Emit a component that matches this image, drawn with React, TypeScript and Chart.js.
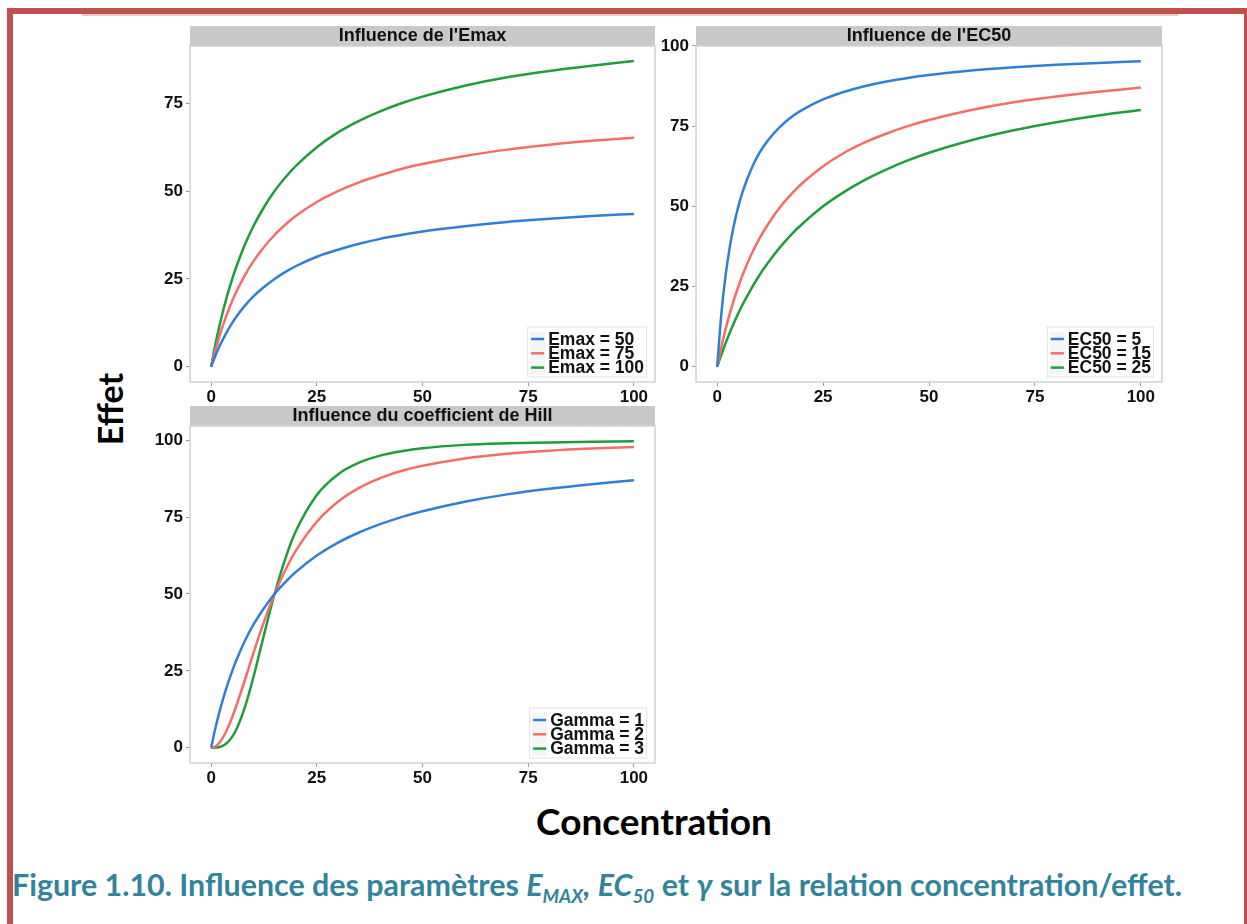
import React, { useEffect, useRef } from 'react';
import { Chart, registerables } from 'chart.js';

Chart.register(...registerables);

// ---- Data ----
const concentration = [0, 1, 2, 3, 4, 5, 6, 8, 10, 12, 15, 18, 20, 25, 30, 35, 40, 45, 50, 60, 70, 80, 90, 100];

// Panel 1: Influence de l'Emax
const emax50 = [0, 3.1, 5.9, 8.3, 10.5, 12.5, 14.3, 17.4, 20.0, 22.2, 25.0, 27.3, 28.6, 31.3, 33.3, 35.0, 36.4, 37.5, 38.5, 40.0, 41.2, 42.1, 42.9, 43.5];
const emax75 = [0, 4.7, 8.8, 12.5, 15.8, 18.8, 21.4, 26.1, 30.0, 33.3, 37.5, 40.9, 42.9, 46.9, 50.0, 52.5, 54.5, 56.3, 57.7, 60.0, 61.8, 63.2, 64.3, 65.2];
const emax100 = [0, 6.3, 11.8, 16.7, 21.1, 25.0, 28.6, 34.8, 40.0, 44.4, 50.0, 54.5, 57.1, 62.5, 66.7, 70.0, 72.7, 75.0, 76.9, 80.0, 82.4, 84.2, 85.7, 87.0];

// Panel 2: Influence de l'EC50
const ec50_5 = [0, 16.7, 28.6, 37.5, 44.4, 50.0, 54.5, 61.5, 66.7, 70.6, 75.0, 78.3, 80.0, 83.3, 85.7, 87.5, 88.9, 90.0, 90.9, 92.3, 93.3, 94.1, 94.7, 95.2];
const ec50_15 = [0, 6.3, 11.8, 16.7, 21.1, 25.0, 28.6, 34.8, 40.0, 44.4, 50.0, 54.5, 57.1, 62.5, 66.7, 70.0, 72.7, 75.0, 76.9, 80.0, 82.4, 84.2, 85.7, 87.0];
const ec50_25 = [0, 3.8, 7.4, 10.7, 13.8, 16.7, 19.4, 24.2, 28.6, 32.4, 37.5, 41.9, 44.4, 50.0, 54.5, 58.3, 61.5, 64.3, 66.7, 70.6, 73.7, 76.2, 78.3, 80.0];

// Panel 3: Influence du coefficient de Hill
const gamma1 = [0, 6.3, 11.8, 16.7, 21.1, 25.0, 28.6, 34.8, 40.0, 44.4, 50.0, 54.5, 57.1, 62.5, 66.7, 70.0, 72.7, 75.0, 76.9, 80.0, 82.4, 84.2, 85.7, 87.0];
const gamma2 = [0, 0.4, 1.7, 3.8, 6.6, 10.0, 13.8, 22.1, 30.8, 39.0, 50.0, 59.0, 64.0, 73.5, 80.0, 84.5, 87.7, 90.0, 91.7, 94.1, 95.6, 96.6, 97.3, 97.8];
const gamma3 = [0, 0.03, 0.24, 0.8, 1.9, 3.6, 6.0, 13.2, 22.9, 33.9, 50.0, 63.3, 70.3, 82.2, 88.9, 92.7, 95.0, 96.4, 97.4, 98.5, 99.0, 99.3, 99.5, 99.7];

const emaxLabels = ['Emax = 50', 'Emax = 75', 'Emax = 100'];
const ec50Labels = ['EC50 = 5', 'EC50 = 15', 'EC50 = 25'];
const gammaLabels = ['Gamma = 1', 'Gamma = 2', 'Gamma = 3'];

const xTicks = [0, 25, 50, 75, 100];
const yTicksEmax = [0, 25, 50, 75];
const yTicksFull = [0, 25, 50, 75, 100];

const BLUE = '#2f80d4';
const RED = '#f26f68';
const GREEN = '#1f9d3a';

const TICK_FONT = { family: '"Liberation Sans", Arial, sans-serif', size: 17, weight: 'bold' as const };

type Series = { label: string; values: number[]; color: string };
type PanelCfg = {
  title: string;
  series: Series[];
  yMin: number;
  yMax: number;
  yTicks: number[];
  left: number;
  top: number;
  width: number;
  height: number;
};

const panels: PanelCfg[] = [
  {
    title: "Influence de l'Emax",
    series: [
      { label: emaxLabels[0], values: emax50, color: BLUE },
      { label: emaxLabels[1], values: emax75, color: RED },
      { label: emaxLabels[2], values: emax100, color: GREEN },
    ],
    yMin: -4.35,
    yMax: 91.3,
    yTicks: yTicksEmax,
    left: 130,
    top: 20,
    width: 535,
    height: 388,
  },
  {
    title: "Influence de l'EC50",
    series: [
      { label: ec50Labels[0], values: ec50_5, color: BLUE },
      { label: ec50Labels[1], values: ec50_15, color: RED },
      { label: ec50Labels[2], values: ec50_25, color: GREEN },
    ],
    yMin: -4.76,
    yMax: 99.96,
    yTicks: yTicksFull,
    left: 636,
    top: 20,
    width: 536,
    height: 388,
  },
  {
    title: 'Influence du coefficient de Hill',
    series: [
      { label: gammaLabels[0], values: gamma1, color: BLUE },
      { label: gammaLabels[1], values: gamma2, color: RED },
      { label: gammaLabels[2], values: gamma3, color: GREEN },
    ],
    yMin: -4.98,
    yMax: 104.64,
    yTicks: yTicksFull,
    left: 130,
    top: 400,
    width: 535,
    height: 389,
  },
];

function Panel({ cfg }: { cfg: PanelCfg }) {
  const ref = useRef<HTMLCanvasElement>(null);

  useEffect(() => {
    const stripPlugin = {
      id: 'strip',
      beforeDraw(chart: any) {
        const { ctx, chartArea } = chart;
        ctx.save();
        ctx.fillStyle = '#c9c9c9';
        ctx.fillRect(chartArea.left, chartArea.top - 20, chartArea.right - chartArea.left, 20);
        ctx.fillStyle = '#111111';
        ctx.font = 'bold 18px "Liberation Sans", Arial, sans-serif';
        ctx.textAlign = 'center';
        ctx.textBaseline = 'middle';
        ctx.fillText(cfg.title, (chartArea.left + chartArea.right) / 2, chartArea.top - 9.5);
        ctx.restore();
      },
    };

    const framePlugin = {
      id: 'frame',
      afterDatasetsDraw(chart: any) {
        const { ctx, chartArea } = chart;
        ctx.save();
        ctx.strokeStyle = '#cdd1d6';
        ctx.lineWidth = 1.5;
        ctx.strokeRect(chartArea.left, chartArea.top, chartArea.right - chartArea.left, chartArea.bottom - chartArea.top);
        ctx.restore();
      },
    };

    const legendPlugin = {
      id: 'insideLegend',
      afterDraw(chart: any) {
        const { ctx, chartArea } = chart;
        const ds = chart.data.datasets;
        ctx.save();
        ctx.font = 'bold 17.5px "Liberation Sans", Arial, sans-serif';
        const tw = Math.max(...ds.map((d: any) => ctx.measureText(d.label).width));
        const rowH = 14.3;
        const w = 4 + 13 + 4 + tw + 3;
        const h = 51;
        const x = chartArea.right - 8 - w;
        const y = chartArea.bottom - 4.5 - h;
        ctx.fillStyle = '#ffffff';
        ctx.fillRect(x, y, w, h);
        ctx.strokeStyle = '#e2e4e0';
        ctx.lineWidth = 1;
        ctx.strokeRect(x + 0.5, y + 0.5, w - 1, h - 1);
        ds.forEach((d: any, i: number) => {
          const cy = y + 12.5 + i * rowH;
          ctx.fillStyle = '#f3f4f6';
          ctx.fillRect(x + 3, cy - 7, 15, 14);
          ctx.strokeStyle = d.borderColor;
          ctx.lineWidth = 2.5;
          ctx.beginPath();
          ctx.moveTo(x + 4, cy);
          ctx.lineTo(x + 17, cy);
          ctx.stroke();
          ctx.fillStyle = '#111111';
          ctx.textAlign = 'left';
          ctx.textBaseline = 'middle';
          ctx.fillText(d.label, x + 21, cy + 1);
        });
        ctx.restore();
      },
    };

    const gridOpts = {
      display: true,
      drawOnChartArea: false,
      drawTicks: true,
      tickLength: 4,
      color: '#9a9a9a',
      lineWidth: 1,
    };

    const chart = new Chart(ref.current as HTMLCanvasElement, {
      type: 'line',
      data: {
        datasets: cfg.series.map((s) => ({
          label: s.label,
          data: concentration.map((c, i) => ({ x: c, y: s.values[i] })),
          borderColor: s.color,
          backgroundColor: s.color,
          borderWidth: 2.5,
          pointRadius: 0,
          cubicInterpolationMode: 'monotone' as const,
          fill: false,
        })),
      },
      options: {
        animation: false,
        responsive: false,
        maintainAspectRatio: false,
        devicePixelRatio: 1,
        layout: { padding: { left: 0, right: 10, top: 26, bottom: 0 } },
        plugins: {
          legend: { display: false },
          tooltip: { enabled: false },
          title: { display: false },
        },
        scales: {
          x: {
            type: 'linear',
            min: -5,
            max: 105,
            afterBuildTicks: (s: any) => {
              s.ticks = xTicks.map((v) => ({ value: v }));
            },
            afterFit: (s: any) => {
              s.height = 26;
            },
            ticks: { font: TICK_FONT, color: '#111111', padding: 1, maxRotation: 0, autoSkip: false },
            grid: gridOpts,
            border: { display: false },
          },
          y: {
            type: 'linear',
            min: cfg.yMin,
            max: cfg.yMax,
            afterBuildTicks: (s: any) => {
              s.ticks = cfg.yTicks.map((v) => ({ value: v }));
            },
            afterFit: (s: any) => {
              s.width = 60;
            },
            ticks: { font: TICK_FONT, color: '#111111', padding: 3, autoSkip: false },
            grid: gridOpts,
            border: { display: false },
          },
        },
      },
      plugins: [stripPlugin, framePlugin, legendPlugin],
    } as any);

    return () => chart.destroy();
  }, [cfg]);

  return (
    <canvas
      ref={ref}
      width={cfg.width}
      height={cfg.height}
      style={{ position: 'absolute', left: cfg.left, top: cfg.top, width: cfg.width, height: cfg.height }}
    />
  );
}

export default function App() {
  const titleFont = 'Lato, "Open Sans", sans-serif';
  return (
    <div
      style={{
        position: 'absolute',
        left: 0,
        top: 0,
        width: 1247,
        height: 924,
        overflow: 'hidden',
        background: '#ffffff',
      }}
    >
      {/* red frame */}
      <div
        style={{
          position: 'absolute',
          left: 7,
          top: 8,
          width: 1231,
          height: 1000,
          border: '6px solid #c0504d',
        }}
      />
      <div style={{ position: 'absolute', left: 82, top: 14, width: 1096, height: 2, background: '#f0c6c4' }} />

      {panels.map((p, i) => (
        <Panel key={i} cfg={p} />
      ))}

      {/* axis titles */}
      <div
        style={{
          position: 'absolute',
          left: 110,
          top: 409,
          transform: 'translate(-50%, -50%) rotate(-90deg)',
          fontFamily: titleFont,
          fontWeight: 700,
          fontSize: 34,
          color: '#000',
          whiteSpace: 'nowrap',
          lineHeight: 1,
        }}
      >
        Effet
      </div>
      <div
        style={{
          position: 'absolute',
          left: 654,
          top: 820,
          transform: 'translate(-50%, -50%)',
          fontFamily: titleFont,
          fontWeight: 700,
          fontSize: 37,
          color: '#000',
          whiteSpace: 'nowrap',
          lineHeight: 1,
        }}
      >
        Concentration
      </div>

      {/* caption */}
      <div
        style={{
          position: 'absolute',
          left: 12,
          top: 869,
          fontFamily: titleFont,
          fontWeight: 700,
          fontSize: 30.4,
          color: '#31849b',
          whiteSpace: 'nowrap',
          lineHeight: 1,
        }}
      >
        Figure 1.10. Influence des paramètres{' '}
        <i>
          E<sub style={{ fontSize: '0.62em' }}>MAX</sub>,
        </i>{' '}
        <i>
          EC<sub style={{ fontSize: '0.62em' }}>50</sub>
        </i>{' '}
        et <i>γ</i> sur la relation concentration/effet.
      </div>
    </div>
  );
}
